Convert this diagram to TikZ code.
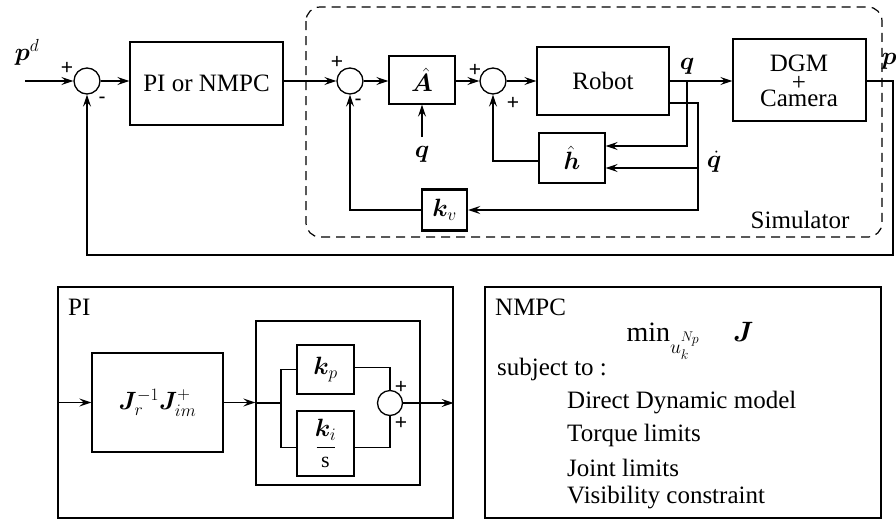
\RequirePackage{fix-cm}
\documentclass[tikz,border=0pt]{standalone}
\usepackage{amsmath,bm}
\usepackage{fontspec}
\setmainfont{Liberation Serif}
\newfontfamily\sgnfamily{Liberation Sans}
\usetikzlibrary{arrows.meta,calc}
\newcommand\mytxt{\fontsize{25}{28}\selectfont}
\newcommand\mysgn{\sgnfamily\fontsize{21}{23}\selectfont}
\tikzset{
  blk/.style={draw, line width=1.3pt, inner sep=0pt, font=\mytxt},
  sumc/.style={draw, circle, line width=1.3pt, minimum size=26pt, inner sep=0pt},
  wire/.style={line width=1.5pt},
  arr/.style={wire, -{Stealth[length=12pt,width=8pt,inset=4.5pt]}},
  sgn/.style={font=\mysgn, inner sep=0pt},
  lbl/.style={font=\mytxt, inner sep=0pt},
}
\begin{document}
\begin{tikzpicture}[x=1pt,y=-1pt]
\useasboundingbox (0,0) rectangle (896,520);
\fill[white] (0,0) rectangle (896,520);

% ---------- top diagram ----------
\draw[line width=1.2pt, dash pattern=on 9pt off 6pt, rounded corners=14pt] (306,7) rectangle (882,237);
\node[lbl] (sim) at (800,220) {Simulator};

\node[sumc] (s1) at (87,81) {};
\node[blk, minimum width=153pt, minimum height=83pt] (pid) at (206.5,83.5) {PI or NMPC};
\node[sumc] (s2) at (350,81) {};
\node[blk, minimum width=66pt, minimum height=48pt] (A) at (422,80) {$\hat{\bm{A}}$};
\node[sumc] (s3) at (493,81) {};
\node[blk, minimum width=132pt, minimum height=68pt] (rob) at (603,81) {Robot};
\node[blk, minimum width=133pt, minimum height=82pt] (dgm) at (799.5,80) {};
\node[lbl] (dgmt) at (799,63) {DGM};
\node[lbl] (dgmp) at (799,83) {+};
\node[lbl] (dgmc) at (799,98) {Camera};
\node[blk, minimum width=66pt, minimum height=50pt] (h) at (572,158) {$\hat{\bm{h}}$};
\node[blk, line width=2.4pt, minimum width=45pt, minimum height=41pt] (kv) at (444.5,210) {$\bm{k}_v$};

\node[lbl] (pd) at (27,52) {$\bm{p}^d$};
\node[sgn] (s1p) at (67,68) {+};
\node[sgn] (s1m) at (102,100) {-};
\node[sgn] (s2p) at (337,62) {+};
\node[sgn] (s2m) at (358,102) {-};
\node[sgn] (s3p) at (475,70) {+};
\node[sgn] (s3q) at (513,103) {+};
\node[lbl] (ql) at (687,66) {$\bm{q}$};
\node[lbl] (qA) at (422,154) {$\bm{q}$};
\node[lbl] (qdl) at (714,162) {$\dot{\bm{q}}$};
\node[lbl] (pl) at (889,61) {$\bm{p}$};

\coordinate (in) at (25,81);
\draw[arr, line width=1.9pt] (in) -- (s1.west);
\draw[arr] (s1.east) -- (s1.east -| pid.west);
\draw[arr] (pid.east |- s2) -- (s2.west);
\draw[arr] (s2.east) -- (s2.east -| A.west);
\draw[arr] (A.east |- s3) -- (s3.west);
\draw[arr] (s3.east) -- (s3.east -| rob.west);
\draw[arr, line width=1.9pt] (rob.east) -- (rob.east -| dgm.west);

\coordinate (qb) at (687,81);
\coordinate (hq) at ($(h.east)+(0,-12)$);
\coordinate (hqd) at ($(h.east)+(0,10)$);
\draw[arr, line width=1.9pt] (qb) |- (hq);
\coordinate (rqd) at ($(rob.east)+(0,22)$);
\coordinate (qdc) at (698,210);
\draw[arr, line width=1.9pt] (rqd) -| (qdc) -- (kv.east);
\draw[arr] (qdc |- hqd) -- (hqd);
\draw[arr] ($(h.west)+(0,3)$) -| (s3.south);
\draw[arr] (kv.west) -| (s2.south);
\coordinate (qAin) at (422,137);
\draw[arr, line width=2.6pt] (qAin) -- (A.south);

\coordinate (c1) at (893,81);
\coordinate (c2) at (893,255);
\draw[arr] (dgm.east |- c1) -- (c1) -- (c2) -| (s1.south);

% ---------- PI box ----------
\node[blk, minimum width=395pt, minimum height=231pt] (pibox) at (255.5,402.5) {};
\node[lbl, anchor=west] (pil) at (68,307) {PI};
\node[blk, minimum width=131pt, minimum height=99pt] (J) at (157.5,402.5) {$\bm{J}_r^{-1}\bm{J}_{im}^{+}$};
\node[blk, minimum width=164pt, minimum height=164pt] (inb) at (338,403) {};
\node[blk, minimum width=57pt, minimum height=49pt] (kp) at (325.5,369.5) {$\bm{k}_p$};
\node[blk, minimum width=57pt, minimum height=65pt] (ki) at (325.5,443.5) {};
\node[lbl] (kit) at (325.5,430) {$\bm{k}_i$};
\node[lbl, font=\fontsize{22}{24}\selectfont] (kis) at (325.5,462) {s};
\draw[line width=0.9pt] ($(ki.center)+(-9,3.5)$) -- ($(ki.center)+(9,3.5)$);
\node[sumc, minimum size=25pt] (s4) at (390,403) {};
\node[sgn] (s4p) at (401,387) {+};
\node[sgn] (s4q) at (401,423) {+};
\coordinate (sp) at (281,403);
\draw[arr] (pibox.west |- J) -- (J.west);
\draw[arr] (J.east) -- (inb.west |- J);
\draw[wire] (inb.west |- sp) -- (sp);
\draw[wire] (sp) |- (kp.west);
\draw[wire] (sp) |- ($(ki.west)+(0,4)$);
\draw[wire] ($(kp.east)+(0,-2)$) -| (s4.north);
\draw[wire] ($(ki.east)+(0,4)$) -| (s4.south);
\draw[arr] (s4.east) -- (s4.east -| pibox.east);

% ---------- NMPC box ----------
\node[blk, minimum width=396pt, minimum height=231pt] (nbox) at (683,402.5) {};
\node[lbl, anchor=west] (nl) at (495,307) {NMPC};
\node[lbl, font=\fontsize{28}{30}\selectfont] (mn) at (690,341) {$\min_{u_k^{N_p}}\quad \bm{J}$};
\node[lbl, anchor=west] (st) at (497,369) {subject to :};
\node[lbl, anchor=west] (c1t) at (567,403) {Direct Dynamic model};
\node[lbl, anchor=west] (c2t) at (567,435) {Torque limits};
\node[lbl, anchor=west] (c3t) at (567,468) {Joint limits};
\node[lbl, anchor=west] (c4t) at (567,498) {Visibility constraint};
\end{tikzpicture}
\end{document}
